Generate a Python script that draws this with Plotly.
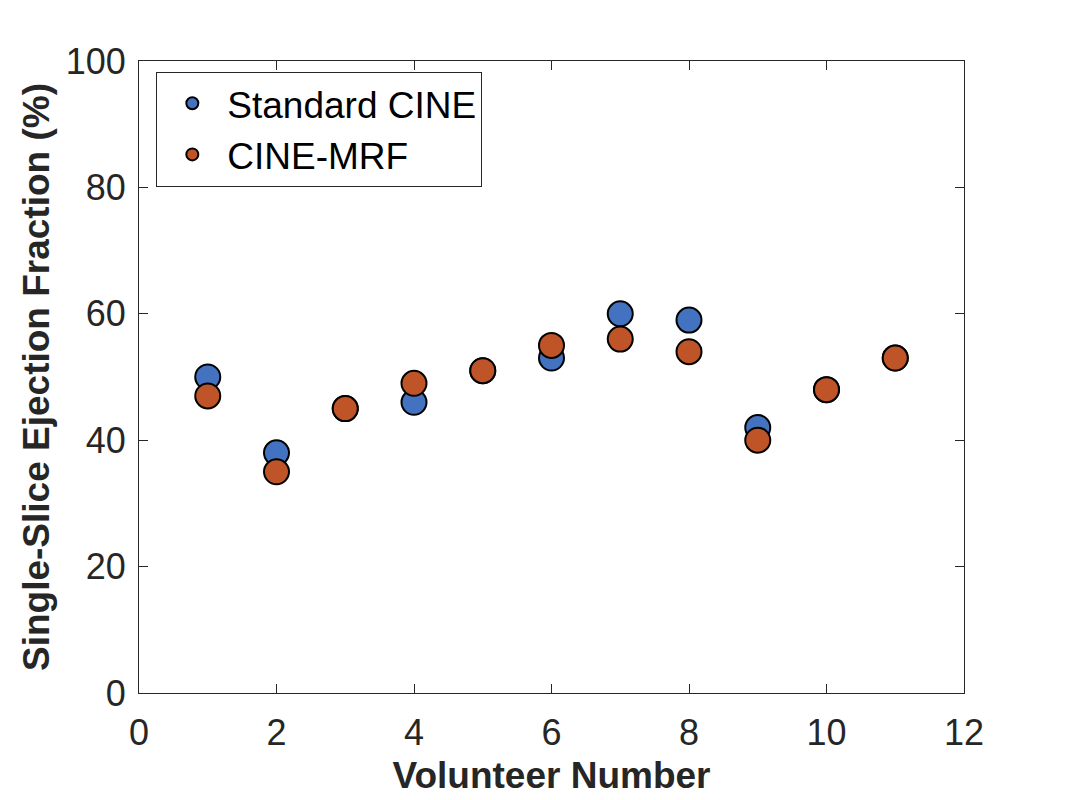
import plotly.graph_objects as go

volunteers = [1, 2, 3, 4, 5, 6, 7, 8, 9, 10, 11]
standard_cine = [50, 38, 45, 46, 51, 53, 60, 59, 42, 48, 53]
cine_mrf = [47, 35, 45, 49, 51, 55, 56, 54, 40, 48, 53]

FONT = "Liberation Sans, Arial, Helvetica"

fig = go.Figure()
fig.add_trace(go.Scatter(x=volunteers, y=standard_cine, mode="markers", name="Standard CINE",
                         marker=dict(size=25, color="#4372C0", line=dict(color="black", width=2))))
fig.add_trace(go.Scatter(x=volunteers, y=cine_mrf, mode="markers", name="CINE-MRF",
                         marker=dict(size=25, color="#BE5427", line=dict(color="black", width=2))))

axis_common = dict(showline=True, linecolor="#262626", linewidth=1, mirror="ticks",
                   ticks="inside", ticklen=9, tickcolor="#262626", showgrid=False, zeroline=False,
                   tickfont=dict(family=FONT, size=36, color="#262626"))

fig.update_xaxes(range=[0, 12], dtick=2, ticklabelstandoff=8, **axis_common,
                 title=dict(text="<b>Volunteer Number</b>", standoff=9,
                            font=dict(family=FONT, size=37, color="#262626")))
fig.update_yaxes(range=[0, 100], dtick=20, ticklabelstandoff=5, **axis_common,
                 title=dict(text="<b>Single-Slice Ejection Fraction (%)</b>", standoff=4,
                            font=dict(family=FONT, size=37, color="#262626")))

fig.update_layout(
    width=1066, height=800,
    margin=dict(l=131, r=110, t=53, b=115),
    plot_bgcolor="white", paper_bgcolor="white",
    legend=dict(x=0.021, y=0.983, xanchor="left", yanchor="top",
                bordercolor="#262626", borderwidth=1, bgcolor="white",
                font=dict(family=FONT, size=37, color="black"),
                itemsizing="constant", itemwidth=60, tracegroupgap=0),
    showlegend=True,
)

fig.write_html("out.html")
